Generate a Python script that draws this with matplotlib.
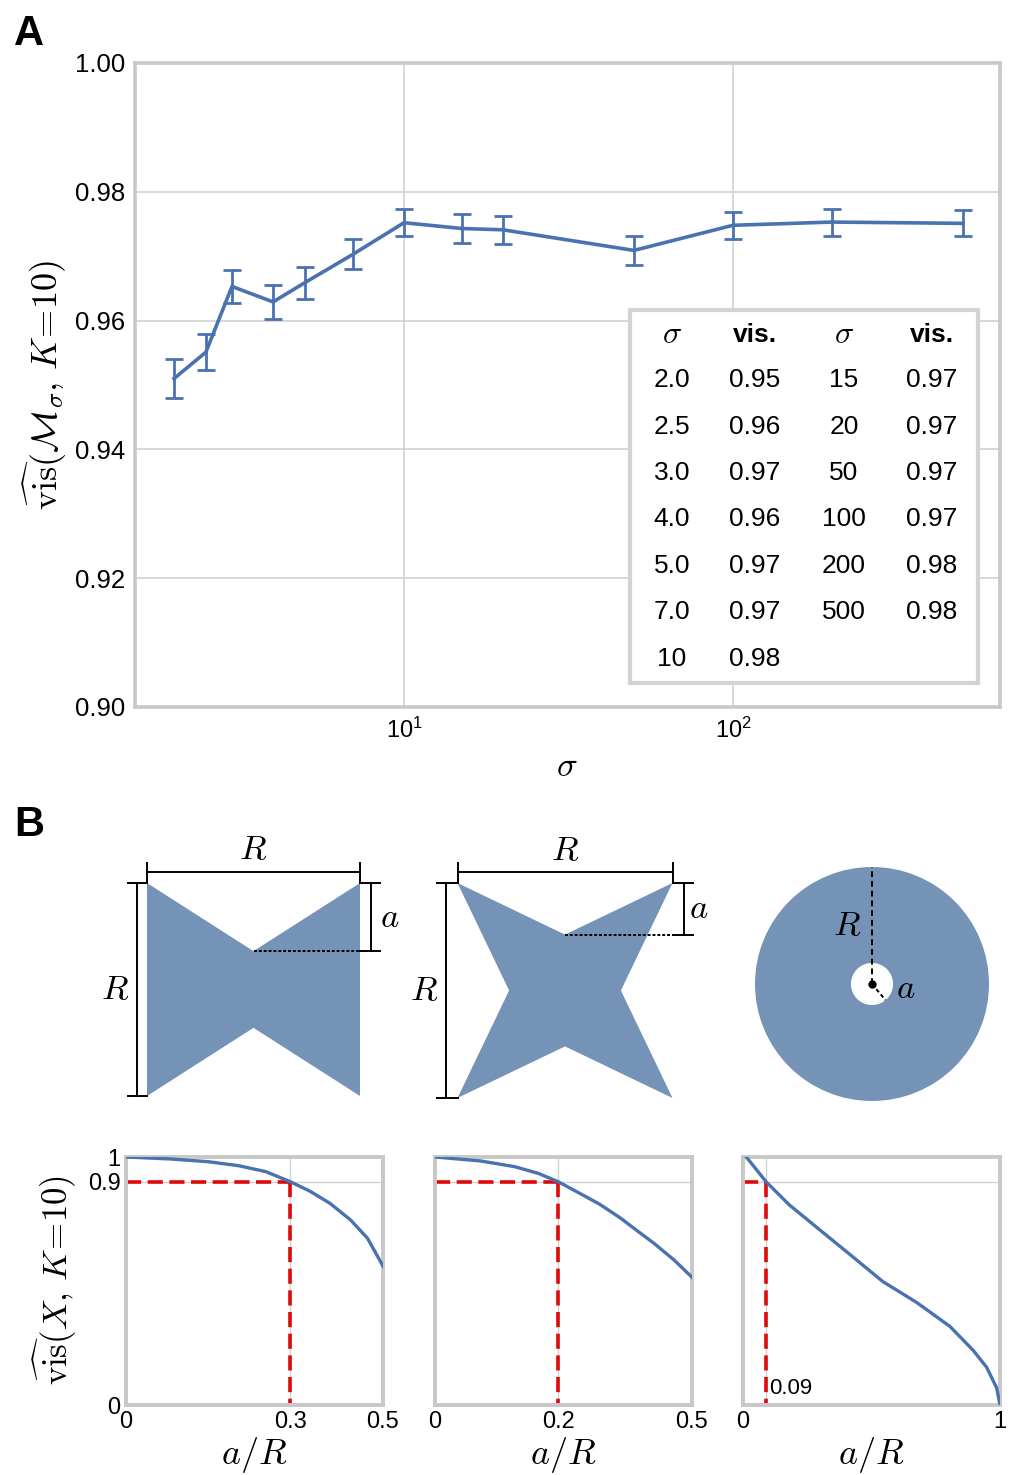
import numpy as np
import matplotlib
matplotlib.use('Agg')
import matplotlib.pyplot as plt
from matplotlib.patches import Polygon, Circle, Rectangle
from matplotlib.ticker import NullLocator

plt.rcParams['font.family'] = ['Liberation Sans', 'DejaVu Sans']
plt.rcParams['mathtext.fontset'] = 'cm'

# Panel A data
sigma = [2, 2.5, 3, 4, 5, 7, 10, 15, 20, 50, 100, 200, 500]
vis_mean = [0.9510, 0.9551, 0.9653, 0.9629, 0.9659, 0.9703, 0.9752,
            0.9743, 0.9741, 0.9709, 0.9748, 0.9753, 0.9751]
vis_err = [0.0030, 0.0028, 0.0025, 0.0026, 0.0025, 0.0023, 0.0021,
           0.0022, 0.0022, 0.0023, 0.0021, 0.0021, 0.0020]

# table inside panel A
tab_sigma_left = ['2.0', '2.5', '3.0', '4.0', '5.0', '7.0', '10']
tab_vis_left = ['0.95', '0.96', '0.97', '0.96', '0.97', '0.97', '0.98']
tab_sigma_right = ['15', '20', '50', '100', '200', '500']
tab_vis_right = ['0.97', '0.97', '0.97', '0.97', '0.98', '0.98']

# Panel B shapes (notch / hole size in units of R)
a_bowtie = 0.32
a_star = 0.24
a_ring = 0.18

# Panel B curves
bow_a = [0, 0.087, 0.160, 0.219, 0.272, 0.32, 0.358, 0.397, 0.437, 0.470, 0.5]
bow_vis = [1.0, 0.992, 0.981, 0.965, 0.941, 0.90, 0.862, 0.813, 0.746, 0.672, 0.56]
star_a = [0, 0.089, 0.155, 0.201, 0.24, 0.274, 0.320, 0.360, 0.386, 0.426, 0.465, 0.5]
star_vis = [1.0, 0.984, 0.961, 0.934, 0.90, 0.862, 0.810, 0.755, 0.714, 0.652, 0.585, 0.515]
ring_a = [0.013, 0.05, 0.09, 0.18, 0.286, 0.416, 0.545, 0.675, 0.805, 0.896, 0.948, 0.987, 1.0]
ring_vis = [1.0, 0.952, 0.9, 0.807, 0.717, 0.607, 0.497, 0.414, 0.317, 0.22, 0.152, 0.069, 0.0]
cross_a = [0.32, 0.24, 0.09]
cross_vis = 0.9

BLUE = '#4a72b0'
SHAPE = '#7493b7'
RED = '#dd0a0a'
SPINE = '#c8c8c8'
GRID = '#d2d2d2'

W, H = 1015, 1475
fig = plt.figure(figsize=(W / 100, H / 100), dpi=100)


def px_axes(l, t, w, h):
    return fig.add_axes([l / W, 1 - (t + h) / H, w / W, h / H])


def style_frame(ax, lw=2.6):
    for sp in ax.spines.values():
        sp.set_color(SPINE)
        sp.set_linewidth(lw)
    ax.set_axisbelow(True)


# ---------------- Panel A ----------------
ax = px_axes(135, 63, 865, 644)
ax.errorbar(sigma, vis_mean, yerr=vis_err, color=BLUE, lw=2.6,
            elinewidth=2, capsize=6.5, capthick=2)
ax.set_xscale('log')
ax.set_xlim(1.522, 648)
ax.set_ylim(0.90, 1.00)
ax.set_yticks([0.90, 0.92, 0.94, 0.96, 0.98, 1.00])
ax.yaxis.set_major_formatter('{x:.2f}')
ax.xaxis.set_minor_locator(NullLocator())
ax.grid(True, color=GRID, lw=1.2)
ax.tick_params(length=0, labelsize=18.5, pad=7)
ax.tick_params(axis='x', labelsize=17, pad=8)
style_frame(ax)

fig.text(567 / W, 1 - 767 / H, r'$\sigma$', fontsize=25, ha='center', va='center')
fig.text(45 / W, 1 - 385 / H, r'$\widehat{\mathrm{vis}}(\mathcal{M}_\sigma,\, K\!=\!10)$',
         fontsize=26, rotation=90, ha='center', va='center')

# table
fig.add_artist(Rectangle((630 / W, 1 - 683 / H), 348 / W, 373 / H,
                         transform=fig.transFigure, facecolor='white',
                         edgecolor='#d3d3d3', lw=3, zorder=5))
col_x = [672, 755, 844, 932]
row_y = [335, 380, 427, 473, 519, 566, 612, 659]
for cx, head in zip(col_x, [r'$\sigma$', 'vis.', r'$\sigma$', 'vis.']):
    if head == 'vis.':
        fig.text(cx / W, 1 - row_y[0] / H, head, fontsize=19, fontweight='bold',
                 ha='center', va='center', zorder=6)
    else:
        fig.text(cx / W, 1 - row_y[0] / H, head, fontsize=23,
                 ha='center', va='center', zorder=6)
cols = [tab_sigma_left, tab_vis_left, tab_sigma_right, tab_vis_right]
for cx, col in zip(col_x, cols):
    for ry, txt in zip(row_y[1:], col):
        fig.text(cx / W, 1 - ry / H, txt, fontsize=19, ha='center', va='center', zorder=6)

fig.text(14 / W, 1 - 45 / H, 'A', fontsize=30, fontweight='bold', va='baseline')
fig.text(14 / W, 1 - 836 / H, 'B', fontsize=30, fontweight='bold', va='baseline')


# ---------------- Panel B shapes ----------------
def shape_axes(sq_l, sq_t, size, l, t, w, h):
    s = px_axes(l, t, w, h)
    s.set_xlim((l - sq_l) / size, (l + w - sq_l) / size)
    s.set_ylim((sq_t + size - (t + h)) / size, (sq_t + size - t) / size)
    s.axis('off')
    return s


def dims(s, a, top_y, left_x, right_x, tick):
    k = dict(color='black', lw=1.4)
    s.plot([0, 1], [top_y, top_y], **k)
    s.plot([0, 0], [1, top_y + tick * 0.5], **k)
    s.plot([1, 1], [1, top_y + tick * 0.5], **k)
    s.plot([left_x, left_x], [0, 1], **k)
    s.plot([left_x - tick * 0.5, 0], [1, 1], **k)
    s.plot([left_x - tick * 0.5, 0], [0, 0], **k)
    s.plot([right_x, right_x], [1, 1 - a], **k)
    s.plot([1, right_x + tick * 0.5], [1, 1], **k)
    s.plot([1, right_x + tick * 0.5], [1 - a, 1 - a], **k)
    s.plot([0.5, 1], [1 - a, 1 - a], color='black', lw=1.4, dashes=(1.5, 1))


lab = dict(fontsize=25, ha='center', va='center')

s1 = shape_axes(147, 883, 213, 80, 825, 340, 290)
s1.add_patch(Polygon([(0, 1), (0.5, 1 - a_bowtie), (1, 1), (1, 0), (0.5, a_bowtie), (0, 0)],
                     closed=True, fc=SHAPE, ec='none'))
dims(s1, a_bowtie, 1.052, -0.047, 1.052, 0.085)
s1.text(0.5, 1.155, '$R$', **lab)
s1.text(-0.15, 0.5, '$R$', **lab)
s1.text(1.14, 1 - a_bowtie / 2, '$a$', **lab)

s2 = shape_axes(457.5, 883, 215, 400, 825, 330, 290)
s2.add_patch(Polygon([(0, 1), (0.5, 1 - a_star), (1, 1), (1 - a_star, 0.5), (1, 0),
                      (0.5, a_star), (0, 0), (a_star, 0.5)],
                     closed=True, fc=SHAPE, ec='none'))
dims(s2, a_star, 1.051, -0.055, 1.052, 0.085)
s2.text(0.5, 1.153, '$R$', **lab)
s2.text(-0.156, 0.5, '$R$', **lab)
s2.text(1.12, 1 - a_star / 2, '$a$', **lab)

s3 = px_axes(740, 845, 270, 270)
s3.set_xlim((740 - 872) / 117, (1010 - 872) / 117)
s3.set_ylim((984 - 1115) / 117, (984 - 845) / 117)
s3.axis('off')
s3.add_patch(Circle((0, 0), 1, fc=SHAPE, ec='none'))
s3.add_patch(Circle((0, 0), a_ring, fc='white', ec='none'))
s3.plot([0, 0], [0, 1], color='black', lw=1.4, dashes=(3, 2))
ang = np.deg2rad(-50)
s3.plot([0, a_ring * np.cos(ang)], [0, a_ring * np.sin(ang)], color='black', lw=1.4, dashes=(2, 1.5))
s3.plot([0], [0], 'o', color='black', ms=5)
s3.text(-0.21, 0.5, '$R$', **lab)
s3.text(0.29, -0.04, '$a$', **lab)

# ---------------- Panel B curves ----------------
curves = [(bow_a, bow_vis, 0.5, [0, cross_a[0], 0.5], ['0', '0.3', '0.5']),
          (star_a, star_vis, 0.5, [0, cross_a[1], 0.5], ['0', '0.2', '0.5']),
          (ring_a, ring_vis, 1.0, [0, cross_a[2], 1.0], ['0', '', '1'])]
lefts = [126, 435, 743]
for i, (xa, yv, xmax, xt, xtl) in enumerate(curves):
    c = px_axes(lefts[i], 1157, 257, 248)
    c.plot(xa, yv, color=BLUE, lw=2.4, zorder=3)
    c.plot([0, cross_a[i]], [cross_vis, cross_vis], color=RED, lw=2.6, dashes=(4.2, 1.8), zorder=2)
    c.plot([cross_a[i], cross_a[i]], [cross_vis, 0], color=RED, lw=2.6, dashes=(4.2, 1.8), zorder=2)
    c.set_xlim(0, xmax)
    c.set_ylim(0, 1)
    c.set_xticks(xt)
    c.set_xticklabels(xtl)
    c.set_yticks([0, cross_vis, 1])
    if i == 0:
        c.set_yticklabels(['0', '0.9', '1'])
    else:
        c.set_yticklabels(['', '', ''])
    c.grid(True, color=GRID, lw=1.0)
    c.tick_params(length=0, labelsize=17, pad=4)
    style_frame(c, lw=2.8)
    fig.text((lefts[i] + 128) / W, 1 - 1455 / H, '$a/R$', fontsize=26, ha='center', va='center')
    if i == 2:
        c.text(0.1, 0.068, '0.09', fontsize=16, va='center', ha='left')

fig.text(55 / W, 1 - 1280 / H, r'$\widehat{\mathrm{vis}}(X,\, K\!=\!10)$',
         fontsize=25, rotation=90, ha='center', va='center')

fig.savefig('out.png', dpi=100)
